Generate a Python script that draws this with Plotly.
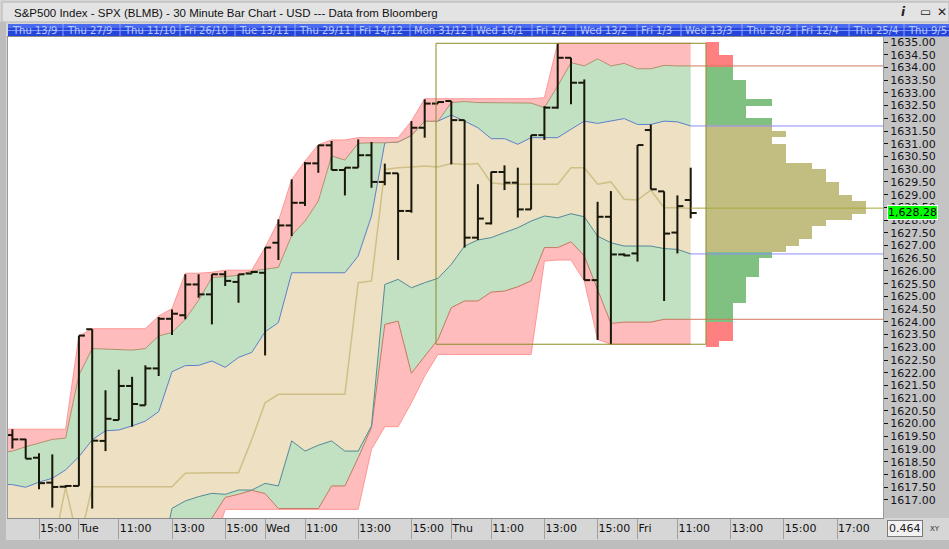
import plotly.graph_objects as go

# ---------------- data ----------------
bar_index = list(range(-2, 50))
bar_open = [1619.55, 1619.38, 1618.66, 1617.68, 1617.52, 1617.55, 1623.71, 1619.32, 1620.14, 1621.48,
            1620.72, 1622.17, 1624.12, 1624.26, 1625.47, 1625.08, 1625.87, 1625.57, 1625.90, 1625.93,
            1627.11, 1627.79, 1628.68, 1630.23, 1630.94, 1629.97, 1630.06, 1630.55, 1629.50, 1629.84,
            1628.36, 1631.63, 1632.58, 1632.68, 1631.93, 1627.31, 1627.87, 1629.89, 1629.47, 1628.42,
            1631.34, 1632.42, 1634.38, 1633.40, 1625.64, 1628.13, 1626.65, 1626.69, 1631.54, 1629.13,
            1627.51, 1628.79]
bar_high = [1619.78, 1619.40, 1618.84, 1618.79, 1617.58, 1623.46, 1623.71, 1621.31, 1622.12, 1621.84,
            1622.29, 1624.19, 1624.49, 1625.87, 1625.87, 1625.87, 1626.00, 1625.87, 1626.00, 1626.92,
            1628.03, 1629.60, 1630.28, 1630.94, 1631.11, 1630.06, 1631.17, 1631.07, 1630.22, 1629.84,
            1631.89, 1632.75, 1632.66, 1632.68, 1631.93, 1629.41, 1629.90, 1630.15, 1630.06, 1631.34,
            1632.48, 1634.95, 1634.38, 1633.53, 1628.72, 1629.14, 1626.69, 1630.95, 1631.76, 1629.13,
            1628.97, 1630.06]
bar_low = [1619.02, 1618.62, 1617.42, 1616.70, 1617.48, 1617.55, 1616.66, 1618.92, 1620.14, 1619.88,
           1620.72, 1621.87, 1623.48, 1624.10, 1624.95, 1623.90, 1625.41, 1624.75, 1625.90, 1622.68,
           1626.43, 1627.37, 1628.55, 1629.86, 1629.97, 1628.97, 1630.06, 1629.27, 1629.37, 1626.43,
           1628.29, 1631.24, 1632.58, 1630.19, 1626.92, 1627.22, 1627.83, 1629.18, 1628.10, 1628.42,
           1631.15, 1632.38, 1632.55, 1625.64, 1623.29, 1623.12, 1626.58, 1626.37, 1629.21, 1624.82,
           1626.69, 1628.07]
bar_close = [1619.38, 1618.62, 1617.66, 1617.51, 1617.55, 1623.46, 1619.33, 1620.19, 1621.48, 1620.77,
             1622.17, 1624.12, 1624.32, 1625.47, 1625.08, 1625.87, 1625.61, 1625.87, 1625.96, 1626.92,
             1627.79, 1628.68, 1630.23, 1630.94, 1629.97, 1630.06, 1630.55, 1629.50, 1629.84, 1628.36,
             1631.63, 1632.58, 1632.64, 1631.93, 1627.31, 1628.06, 1629.89, 1629.47, 1628.42, 1631.34,
             1632.42, 1634.38, 1633.40, 1625.64, 1628.13, 1626.65, 1626.61, 1630.95, 1629.21, 1627.47,
             1628.55, 1628.28]

band_index = list(range(-3, 50))
band_outer_top = [1619.78, 1619.78, 1619.78, 1619.78, 1619.78, 1619.78,
                  1623.44, 1623.73, 1623.73, 1623.73, 1623.73, 1623.73,
                  1624.23, 1624.52, 1625.91, 1625.91, 1625.95, 1626.03,
                  1626.03, 1626.03, 1626.92, 1627.96, 1629.60, 1630.32,
                  1630.96, 1631.15, 1631.15, 1631.24, 1631.24, 1631.24,
                  1631.24, 1631.89, 1632.77, 1632.77, 1632.77, 1632.77,
                  1632.77, 1632.77, 1632.77, 1632.77, 1632.77, 1632.81,
                  1634.95, 1634.95, 1634.95, 1634.95, 1634.95, 1634.95,
                  1634.95, 1634.95, 1634.95, 1634.95, 1634.95]
band_upper_mid = [1618.85, 1618.92, 1619.09, 1619.25, 1619.38, 1619.43,
                  1621.90, 1622.95, 1622.93, 1622.92, 1622.89, 1622.95,
                  1623.45, 1623.58, 1624.10, 1624.85, 1625.74, 1625.78,
                  1625.83, 1626.00, 1626.06, 1626.14, 1627.40, 1627.96,
                  1628.75, 1630.52, 1630.36, 1631.02, 1631.04, 1631.04,
                  1631.07, 1631.33, 1631.89, 1631.89, 1632.62, 1632.66,
                  1632.62, 1632.62, 1632.62, 1632.62, 1632.60, 1632.42,
                  1633.27, 1634.19, 1634.06, 1634.34, 1634.06, 1634.16,
                  1633.95, 1633.95, 1634.08, 1634.06, 1634.06]
band_upper_inner = [1617.63, 1617.60, 1617.50, 1617.70, 1617.85, 1618.18,
                    1618.70, 1619.36, 1619.72, 1619.75, 1619.91, 1620.10,
                    1620.47, 1622.04, 1622.28, 1622.29, 1622.46, 1622.21,
                    1622.60, 1622.80, 1623.61, 1623.97, 1625.93, 1625.93,
                    1625.93, 1625.93, 1625.93, 1626.59, 1628.16, 1631.04,
                    1631.07, 1631.33, 1631.89, 1631.89, 1632.13, 1631.89,
                    1631.63, 1631.20, 1631.20, 1630.98, 1631.24, 1631.24,
                    1631.24, 1631.57, 1631.89, 1631.80, 1631.89, 1631.99,
                    1631.76, 1631.76, 1631.89, 1631.86, 1631.70]
band_center = [1614.90, 1614.90, 1614.90, 1614.90, 1614.90, 1617.50,
               1615.25, 1617.52, 1617.52, 1617.52, 1617.52, 1617.52,
               1617.52, 1617.52, 1618.05, 1618.07, 1618.07, 1618.07,
               1618.07, 1619.38, 1620.82, 1621.15, 1621.15, 1621.15,
               1621.15, 1621.15, 1621.15, 1625.54, 1625.61, 1629.99,
               1630.06, 1630.09, 1630.13, 1630.09, 1630.22, 1630.19,
               1630.22, 1629.47, 1629.41, 1629.41, 1629.41, 1629.41,
               1629.41, 1630.06, 1630.06, 1629.41, 1629.50, 1628.82,
               1628.79, 1629.18, 1628.49, 1628.49, 1628.46]
band_lower_inner = [1613.50, 1613.50, 1613.50, 1613.50, 1613.50, 1613.50,
                    1613.50, 1613.50, 1613.50, 1613.50, 1613.50, 1613.50,
                    1614.20, 1616.67, 1616.96, 1617.13, 1617.26, 1617.22,
                    1617.39, 1617.39, 1617.65, 1617.55, 1619.32, 1618.92,
                    1619.15, 1619.32, 1618.92, 1618.92, 1619.91, 1625.47,
                    1625.67, 1625.34, 1625.54, 1625.71, 1626.26, 1626.98,
                    1627.22, 1627.31, 1627.51, 1627.70, 1627.96, 1628.16,
                    1628.09, 1628.25, 1628.13, 1627.37, 1627.11, 1626.98,
                    1626.98, 1626.98, 1626.88, 1626.85, 1626.67]
band_lower_mid = [1613.00, 1613.00, 1613.00, 1613.00, 1613.00, 1613.00,
                  1613.00, 1613.00, 1613.00, 1613.00, 1613.00, 1613.00,
                  1613.00, 1613.00, 1613.00, 1615.40, 1616.29, 1617.10,
                  1617.22, 1617.38, 1617.25, 1616.66, 1616.66, 1616.66,
                  1616.66, 1617.55, 1617.55, 1618.66, 1619.85, 1623.90,
                  1624.03, 1621.98, 1622.66, 1623.31, 1624.56, 1624.82,
                  1624.82, 1625.17, 1625.21, 1625.38, 1625.61, 1626.92,
                  1626.92, 1627.15, 1626.59, 1625.28, 1623.94, 1623.99,
                  1623.99, 1623.99, 1624.10, 1624.10, 1624.10]
band_outer_bottom = [1612.50, 1612.50, 1612.50, 1612.50, 1612.50, 1612.50,
                     1612.50, 1612.50, 1612.50, 1612.50, 1612.50, 1612.50,
                     1612.50, 1612.50, 1612.50, 1612.50, 1615.00, 1616.63,
                     1616.63, 1616.63, 1616.63, 1616.63, 1616.63, 1616.63,
                     1616.63, 1616.63, 1616.63, 1616.63, 1618.99, 1619.88,
                     1619.88, 1620.82, 1621.87, 1622.72, 1622.72, 1622.72,
                     1622.72, 1622.72, 1622.72, 1622.72, 1622.72, 1626.39,
                     1626.43, 1626.43, 1625.61, 1623.31, 1623.12, 1623.12,
                     1623.12, 1623.12, 1623.12, 1623.12, 1623.12]

profile_price = [1623.125, 1623.375, 1623.625, 1623.875, 1624.125, 1624.375, 1624.625, 1624.875,
                 1625.125, 1625.375, 1625.625, 1625.875, 1626.125, 1626.375, 1626.625, 1626.875,
                 1627.125, 1627.375, 1627.625, 1627.875, 1628.125, 1628.375, 1628.625, 1628.875,
                 1629.125, 1629.375, 1629.625, 1629.875, 1630.125, 1630.375, 1630.625, 1630.875,
                 1631.125, 1631.375, 1631.625, 1631.875, 1632.125, 1632.375, 1632.625, 1632.875,
                 1633.125, 1633.375, 1633.625, 1633.875, 1634.125, 1634.375, 1634.625, 1634.875]
profile_count = [1, 2, 2, 2, 2, 2, 2, 3,
                 3, 3, 3, 4, 4, 4, 5, 6,
                 7, 8, 8, 9, 11, 12, 12, 11,
                 10, 10, 9, 9, 8, 6, 6, 6,
                 5, 6, 5, 5, 3, 3, 5, 3,
                 3, 3, 2, 2, 2, 2, 1, 1]
poc_price = 1628.47
last_price = 1628.28
profile_start_index = 30

x_tick_pos = [0, 3, 6, 10, 14, 17, 20, 24, 28, 31, 34, 38, 42, 45, 48, 52, 56, 60]
x_tick_text = ["15:00", "Tue", "11:00", "13:00", "15:00", "Wed", "11:00", "13:00", "15:00",
               "Thu", "11:00", "13:00", "15:00", "Fri", "11:00", "13:00", "15:00", "17:00"]
y_ticks = [1617 + 0.5 * k for k in range(37)]

nav_labels = ["Thu 13/9", "Thu 27/9", "Thu 11/10", "Fri 26/10", "Tue 13/11", "Thu 29/11",
              "Fri 14/12", "Mon 31/12", "Wed 16/1", "Fri 1/2", "Wed 13/2", "Fri 1/3",
              "Wed 13/3", "Thu 28/3", "Fri 12/4", "Thu 25/4", "Thu 9/5"]
nav_sep_px = [8, 63, 120, 180, 235, 295, 355, 410, 472, 532, 576, 637, 681, 742, 797, 849, 904]

title_text = "S&P500 Index - SPX (BLMB) - 30 Minute Bar Chart - USD --- Data from Bloomberg"

# ---------------- layout geometry ----------------
W_PX, H_PX = 949, 549
M_L, M_R, M_T, M_B = 8, 66, 37, 31
PW = W_PX - M_L - M_R
PH = H_PX - M_T - M_B


def fx(px):
    return (px - M_L) / PW


def fy(py):
    return (M_T + PH - py) / PH


X_RANGE = [-2.331, 63.459]
Y_RANGE = [1616.29, 1635.197]

RED_FILL = "rgb(255,188,188)"
GREEN_FILL = "rgb(194,224,194)"
TAN_FILL = "rgb(238,224,194)"
RED_EDGE = "rgb(255,150,150)"
BROWN_LINE = "rgb(196,120,96)"
BLUE_LINE = "rgb(90,128,200)"
TEAL_LINE = "rgb(80,138,150)"
OLIVE_LINE = "rgb(206,192,134)"

fig = go.Figure()

# market profile histogram (bar layer sits below the scatter layer)
up_mid, up_in = band_upper_mid[-1], band_upper_inner[-1]
lo_in, lo_mid = band_lower_inner[-1], band_lower_mid[-1]
prof_colors = []
for p in profile_price:
    if p > up_mid or p < lo_mid:
        prof_colors.append("rgb(255,128,128)")
    elif p > up_in or p < lo_in:
        prof_colors.append("rgb(128,192,128)")
    else:
        prof_colors.append("rgb(194,190,130)")
profile_base = band_index[-1] + 1.15
fig.add_trace(go.Bar(
    y=profile_price, x=profile_count, base=profile_base, orientation="h", width=0.25,
    marker=dict(color=prof_colors, line=dict(width=0)),
    hoverinfo="skip", showlegend=False))


def band(y, line_color, fill=None, fillcolor=None, width=1.0):
    fig.add_trace(go.Scatter(
        x=band_index, y=y, mode="lines",
        line=dict(color=line_color, width=width),
        fill=fill, fillcolor=fillcolor,
        hoverinfo="skip", showlegend=False))


band(band_outer_bottom, RED_EDGE)
band(band_lower_mid, BROWN_LINE, "tonexty", RED_FILL)
band(band_lower_inner, TEAL_LINE, "tonexty", GREEN_FILL)
band(band_upper_inner, BLUE_LINE, "tonexty", TAN_FILL)
band(band_upper_mid, "rgb(176,144,106)", "tonexty", GREEN_FILL)
band(band_outer_top, RED_EDGE, "tonexty", RED_FILL)
band(band_center, OLIVE_LINE, width=1.5)

# OHLC bars drawn as line segments (vertical range, open tick left, close tick right)
tick_half = 0.45
ohlc_x, ohlc_y = [], []
for xi, o, h, l, c in zip(bar_index, bar_open, bar_high, bar_low, bar_close):
    ohlc_x += [xi, xi, None, xi - tick_half, xi, None, xi, xi + tick_half, None]
    ohlc_y += [l, h, None, o, o, None, c, c, None]
fig.add_trace(go.Scatter(x=ohlc_x, y=ohlc_y, mode="lines",
                         line=dict(color="#17170a", width=2),
                         hoverinfo="skip", showlegend=False))

# level lines
levels = [(up_mid, "rgb(210,120,90)"), (up_in, "rgb(140,140,255)"), (poc_price, "rgb(168,168,60)"),
          (lo_in, "rgb(140,140,255)"), (lo_mid, "rgb(210,120,90)")]
for val, col in levels:
    fig.add_trace(go.Scatter(x=[band_index[-1], X_RANGE[1]], y=[val, val], mode="lines",
                             line=dict(color=col, width=1), hoverinfo="skip", showlegend=False))

shapes = []
shapes.append(dict(type="rect", xref="paper", yref="paper", x0=fx(2), x1=fx(949), y0=fy(22), y1=fy(2),
                   fillcolor="#e3e3e3", line=dict(color="#b4b4b4", width=1), layer="below"))
shapes.append(dict(type="rect", xref="paper", yref="paper", x0=fx(8), x1=fx(949), y0=fy(36.5), y1=fy(24),
                   fillcolor="#2444da", line=dict(width=0), layer="below"))
shapes.append(dict(type="rect", xref="paper", yref="paper", x0=fx(8), x1=fx(949), y0=fy(28), y1=fy(24),
                   fillcolor="#4a6af0", line=dict(width=0), layer="below"))
shapes.append(dict(type="line", xref="paper", yref="paper", x0=fx(8), x1=fx(949), y0=fy(30.5), y1=fy(30.5),
                   line=dict(color="#7d96ff", width=1), layer="below"))
for sx in nav_sep_px[1:]:
    shapes.append(dict(type="line", xref="paper", yref="paper", x0=fx(sx), x1=fx(sx), y0=fy(36), y1=fy(24),
                       line=dict(color="#8ea4ff", width=1), layer="below"))
shapes.append(dict(type="rect", xref="paper", yref="paper", x0=fx(883), x1=fx(949), y0=fy(518), y1=fy(37),
                   fillcolor="#c4c4c4", line=dict(width=0), layer="below"))
shapes.append(dict(type="rect", xref="paper", yref="paper", x0=fx(0), x1=fx(949), y0=fy(549), y1=fy(540),
                   fillcolor="#bdbdbd", line=dict(width=0), layer="below"))
shapes.append(dict(type="rect", xref="paper", yref="paper", x0=fx(0), x1=fx(6), y0=fy(540), y1=fy(22),
                   fillcolor="#bcbcbc", line=dict(width=0), layer="below"))
box_lows = bar_low[bar_index.index(profile_start_index):]
box_highs = bar_high[bar_index.index(profile_start_index):]
shapes.append(dict(type="rect", xref="x", yref="y", x0=profile_start_index - 0.15, x1=profile_base,
                   y0=min(box_lows), y1=max(box_highs),
                   line=dict(color="rgb(140,140,40)", width=1), fillcolor="rgba(0,0,0,0)", layer="above"))

annotations = []
annotations.append(dict(xref="paper", yref="paper", x=fx(12), y=fy(13), xanchor="left", yanchor="middle",
                        text=title_text, showarrow=False,
                        font=dict(family="Liberation Sans, Arial", size=11.5, color="#111111")))
for txt, ix in [("<i><b>i</b></i>", 903), ("▭", 925), ("✕", 942)]:
    annotations.append(dict(xref="paper", yref="paper", x=fx(ix), y=fy(12), xanchor="center", yanchor="middle",
                            text=txt, showarrow=False, font=dict(family="DejaVu Sans", size=12, color="#222222")))
for lab, sx in zip(nav_labels, nav_sep_px):
    annotations.append(dict(xref="paper", yref="paper", x=fx(sx + 2), y=fy(30.5), xanchor="left",
                            yanchor="middle", text=lab, showarrow=False,
                            font=dict(family="DejaVu Sans", size=10, color="#b8c8ff")))
annotations.append(dict(xref="paper", yref="y", x=fx(887), y=last_price, xanchor="left", yanchor="middle",
                        text="1,628.28", showarrow=False, bgcolor="#00ff00", bordercolor="#ffffff",
                        borderwidth=1, borderpad=0,
                        font=dict(family="DejaVu Sans", size=11, color="#000000")))
annotations.append(dict(xref="paper", yref="paper", x=fx(887), y=fy(528.5), xanchor="left", yanchor="middle",
                        text="0.464", showarrow=False, bgcolor="#f2f2f2", bordercolor="#7a7a7a",
                        borderwidth=1, borderpad=1,
                        font=dict(family="DejaVu Sans", size=11, color="#202020")))
annotations.append(dict(xref="paper", yref="paper", x=fx(935), y=fy(528.5), xanchor="center", yanchor="middle",
                        text="XY", showarrow=False, font=dict(family="DejaVu Sans", size=7, color="#303030")))

fig.update_layout(
    width=W_PX, height=H_PX,
    margin=dict(l=M_L, r=M_R, t=M_T, b=M_B, pad=0),
    paper_bgcolor="#d6d6d6", plot_bgcolor="#ffffff",
    font=dict(family="DejaVu Sans", size=11, color="#111111"),
    showlegend=False, bargap=0,
    shapes=shapes, annotations=annotations,
    xaxis=dict(type="linear", range=X_RANGE,
               showgrid=False, zeroline=False, showline=True, linecolor="#8a8a8a", mirror=True,
               tickmode="array", tickvals=x_tick_pos, ticktext=x_tick_text,
               ticks="outside", ticklen=20, tickcolor="#a0a0a0", tickwidth=1,
               ticklabelposition="outside right", ticklabelstandoff=0,
               tickfont=dict(family="DejaVu Sans", size=11, color="#111111")),
    yaxis=dict(range=Y_RANGE, side="right", showgrid=False, zeroline=False,
               showline=True, linecolor="#9a9a9a", mirror=True,
               tickmode="array", tickvals=y_ticks, ticktext=["%.2f" % v for v in y_ticks],
               ticks="outside", ticklen=4, tickcolor="#111111",
               tickfont=dict(family="DejaVu Sans", size=11, color="#141420")),
)

fig.write_html("out.html",
               config={"displayModeBar": False},
               post_script="document.body.style.margin='0px';document.body.style.overflow='hidden';")
